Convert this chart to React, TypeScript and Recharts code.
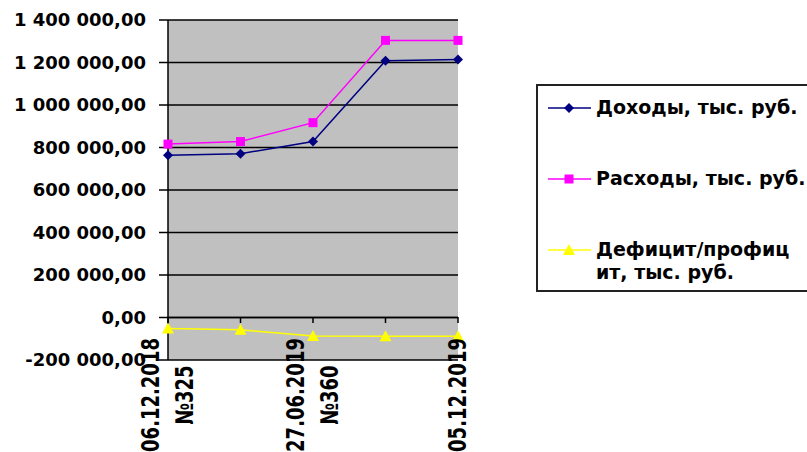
import {
  LineChart,
  Line,
  XAxis,
  YAxis,
  CartesianGrid,
  ReferenceLine,
  Legend,
} from 'recharts'

const dates = ['06.12.2018 №325', '', '27.06.2019 №360', '', '05.12.2019']
const income = [763000, 771000, 828000, 1208000, 1214000]
const expense = [816000, 828000, 917000, 1304000, 1304000]
const deficit = [-52000, -58000, -87000, -88000, -88000]
const yTicks = [-200000, 0, 200000, 400000, 600000, 800000, 1000000, 1200000, 1400000]
const seriesKeys = ['income', 'expense', 'deficit']
const legendLines = [
  ['Доходы, тыс. руб.'],
  ['Расходы, тыс. руб.'],
  ['Дефицит/профиц', 'ит, тыс. руб.'],
]

const FONT = '"DejaVu Sans", sans-serif'

const chartData = dates.map((date, i) => ({
  date,
  income: income[i],
  expense: expense[i],
  deficit: deficit[i],
}))

function formatRub(v: number) {
  const neg = v < 0
  const [int, dec] = Math.abs(v).toFixed(2).split('.')
  const grouped = int.replace(/\B(?=(\d{3})+(?!\d))/g, ' ')
  return (neg ? '-' : '') + grouped + ',' + dec
}

function Diamond({ cx, cy, color = '#000080', size = 5 }: any) {
  return (
    <polygon
      points={`${cx},${cy - size} ${cx + size},${cy} ${cx},${cy + size} ${cx - size},${cy}`}
      fill={color}
    />
  )
}

function Square({ cx, cy, color = '#ff00ff', size = 4.5 }: any) {
  return <rect x={cx - size} y={cy - size} width={size * 2} height={size * 2} fill={color} />
}

function Triangle({ cx, cy, color = '#ffff00', size = 6 }: any) {
  return (
    <polygon
      points={`${cx},${cy - size} ${cx + size},${cy + size - 1} ${cx - size},${cy + size - 1}`}
      fill={color}
    />
  )
}

function DateTick({ x, y, payload }: any) {
  const lines = payload.value ? String(payload.value).split(' ') : []
  const n = lines.length
  return (
    <g>
      {/* small tick marks sit on the zero line */}
      <line x1={x} y1={y - 43} x2={x} y2={y - 37} stroke="#000" strokeWidth={1.5} />
      {n > 0 && (
        <text
          transform={`translate(${x}, ${y + 35}) scale(1.35, 1) rotate(-90)`}
          textAnchor="middle"
          fontFamily={FONT}
          fontWeight="bold"
          fontSize={18}
          fill="#000"
        >
          {lines.map((line, i) => (
            <tspan key={i} x={0} y={(i - (n - 1) / 2) * 25 + 6}>
              {line}
            </tspan>
          ))}
        </text>
      )}
    </g>
  )
}

const markers = [Diamond, Square, Triangle]

function LegendBox({ payload }: any) {
  const items = payload || []
  return (
    <div
      style={{
        boxSizing: 'border-box',
        width: 271,
        height: 208,
        border: '2px solid #222',
        borderRight: 'none',
        background: '#fff',
        paddingTop: 10,
        fontFamily: FONT,
        fontWeight: 'bold',
        fontSize: 19,
        color: '#000',
      }}
    >
      {seriesKeys.map((key, i) => {
        const entry = items.find((it: any) => it.dataKey === key)
        if (!entry) return null
        const Marker = markers[i]
        return (
          <div key={key} style={{ display: 'flex', alignItems: 'flex-start', height: 71 }}>
            <svg width={50} height={24} style={{ marginLeft: 8, flex: 'none' }}>
              <line x1={2} y1={12} x2={45} y2={12} stroke={entry.color} strokeWidth={1.5} />
              <Marker cx={23} cy={12} />
            </svg>
            <div style={{ lineHeight: '23px', whiteSpace: 'nowrap' }}>
              {legendLines[i].map((t) => (
                <div key={t}>{t}</div>
              ))}
            </div>
          </div>
        )
      })}
    </div>
  )
}

export default function App() {
  return (
    <div style={{ position: 'absolute', left: 0, top: 0, width: 807, height: 452, background: '#fff' }}>
      <LineChart
        width={807}
        height={452}
        data={chartData}
        margin={{ top: 20, right: 349, bottom: 0, left: 0 }}
      >
        <CartesianGrid vertical={false} stroke="#000" strokeWidth={1.5} fill="#c0c0c0" fillOpacity={1} />
        <XAxis
          dataKey="date"
          interval={0}
          height={92}
          axisLine={false}
          tickLine={false}
          tickSize={0}
          tickMargin={0}
          tick={<DateTick />}
        />
        <YAxis
          width={168}
          domain={[-200000, 1400000]}
          ticks={yTicks}
          interval={0}
          tickFormatter={formatRub}
          axisLine={{ stroke: '#000', strokeWidth: 1.5 }}
          tickLine={{ stroke: '#000', strokeWidth: 1.5 }}
          tickSize={9}
          tickMargin={13}
          tick={{ fill: '#000', fontFamily: FONT, fontWeight: 'bold', fontSize: 18 }}
        />
        <ReferenceLine x={dates[4]} stroke="#808080" strokeWidth={1.5} />
        <ReferenceLine y={0} stroke="#000" strokeWidth={1.5} />
        <Legend
          layout="vertical"
          align="center"
          verticalAlign="middle"
          wrapperStyle={{ position: 'absolute', left: 536, top: 84, width: 271, height: 208 }}
          content={(props: any) => <LegendBox {...props} />}
        />
        <Line
          dataKey="income"
          name="Доходы, тыс. руб."
          stroke="#000080"
          strokeWidth={1.5}
          isAnimationActive={false}
          dot={(p: any) => <Diamond key={p.index} cx={p.cx} cy={p.cy} />}
        />
        <Line
          dataKey="expense"
          name="Расходы, тыс. руб."
          stroke="#ff00ff"
          strokeWidth={1.5}
          isAnimationActive={false}
          dot={(p: any) => <Square key={p.index} cx={p.cx} cy={p.cy} />}
        />
        <Line
          dataKey="deficit"
          name="Дефицит/профицит, тыс. руб."
          stroke="#ffff00"
          strokeWidth={1.5}
          isAnimationActive={false}
          dot={(p: any) => <Triangle key={p.index} cx={p.cx} cy={p.cy} />}
        />
      </LineChart>
    </div>
  )
}
